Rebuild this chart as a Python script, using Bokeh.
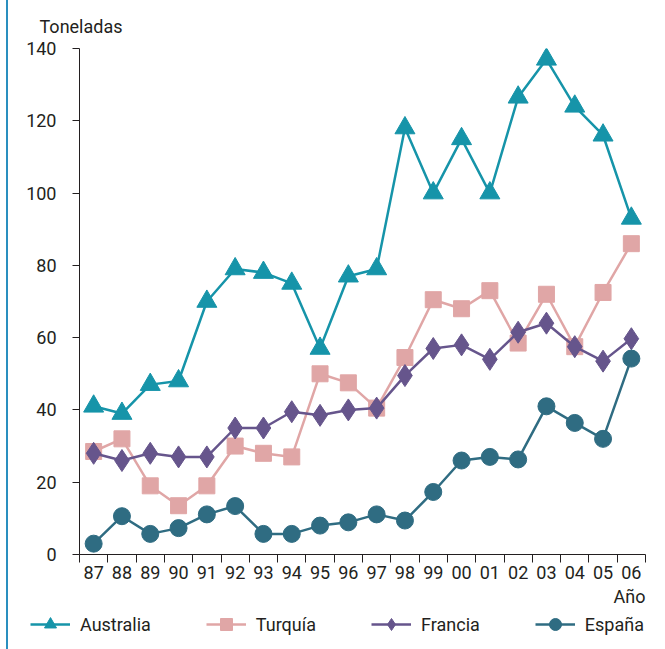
from bokeh.plotting import figure
from bokeh.models import FixedTicker, Legend, LegendItem, ColumnDataSource, Title
from bokeh.layouts import column
from bokeh.embed import file_html
from bokeh.resources import INLINE

years = ["87", "88", "89", "90", "91", "92", "93", "94", "95", "96",
         "97", "98", "99", "00", "01", "02", "03", "04", "05", "06"]
australia = [41, 39, 47, 48, 70, 79, 78, 75, 57, 77,
             79, 118, 100, 115, 100, 126.5, 137, 124, 116, 93]
turquia = [28.5, 32, 19, 13.5, 19, 30, 28, 27, 50, 47.5,
           40.5, 54.5, 70.5, 68, 73, 58.5, 72, 57.5, 72.5, 86]
francia = [28, 26, 28, 27, 27, 35, 35, 39.5, 38.5, 40,
           40.5, 49.5, 57, 58, 54, 61.5, 64, 57.5, 53.5, 59.7]
espana = [3, 10.6, 5.7, 7.3, 11.1, 13.4, 5.7, 5.7, 8, 8.9,
          11.1, 9.4, 17.3, 26, 27, 26.3, 41, 36.4, 32, 54.2]
y_ticks = [0, 20, 40, 60, 80, 100, 120, 140]

FONT = "Roboto"
TXT = "#231f20"
FS = "18px"

idx = list(range(len(years)))

p = figure(frame_width=566, frame_height=506, width=648, height=606,
           x_range=(-0.5, len(years) - 0.5), y_range=(0, 140),
           output_backend="svg", toolbar_location=None,
           min_border_left=71, min_border_right=11, min_border_top=48, min_border_bottom=52)
p.outline_line_color = None
p.grid.visible = False

p.title.text = "Toneladas"
p.title.align = "left"
p.title.offset = -40
p.title.text_font = FONT
p.title.text_font_size = FS
p.title.text_font_style = "normal"
p.title.text_color = TXT
p.title.standoff = 24

# y axis
p.yaxis.ticker = FixedTicker(ticks=y_ticks)
p.yaxis.major_tick_in = 0
p.yaxis.major_tick_out = 7
p.yaxis.minor_tick_line_color = None
p.yaxis.axis_line_color = TXT
p.yaxis.major_tick_line_color = TXT
p.yaxis.major_label_text_font = FONT
p.yaxis.major_label_text_font_size = FS
p.yaxis.major_label_text_color = TXT
p.yaxis.major_label_standoff = 16

# x axis
p.xaxis.ticker = FixedTicker(ticks=idx, minor_ticks=[i - 0.5 for i in range(len(years) + 1)])
p.xaxis.major_label_overrides = {i: y for i, y in enumerate(years)}
p.xaxis.major_tick_in = 0
p.xaxis.major_tick_out = 0
p.xaxis.minor_tick_in = 0
p.xaxis.minor_tick_out = 8
p.xaxis.axis_line_color = TXT
p.xaxis.minor_tick_line_color = TXT
p.xaxis.major_label_text_font = FONT
p.xaxis.major_label_text_font_size = FS
p.xaxis.major_label_text_color = TXT
p.xaxis.major_label_standoff = 3

p.add_layout(Title(text="Año", align="right", text_font=FONT, text_font_size=FS,
                   text_font_style="normal", text_color=TXT, standoff=5), "below")

series = [
    ("Australia", australia, "#1694a9", "triangle", 20),
    ("Turquía", turquia, "#e0a6a6", "square", 16),
    ("Francia", francia, "#66558c", "diamond", 22),
    ("España", espana, "#2f6c82", "circle", 17),
]

# legend figure (below the chart); its ranges keep the data out of view
lf = figure(width=648, height=36, x_range=(1000, 1001), y_range=(1000, 1001),
            x_axis_type=None, y_axis_type=None,
            output_backend="svg", toolbar_location=None,
            min_border_left=0, min_border_right=0, min_border_top=0, min_border_bottom=0)
lf.outline_line_color = None
lf.grid.visible = False
try:
    lf.frame_align = False
except Exception:
    pass

items = []
for name, vals, col, mk, sz in series:
    src = ColumnDataSource(dict(x=idx, y=vals))
    p.line("x", "y", source=src, line_color=col, line_width=2.5)
    p.scatter("x", "y", source=src, marker=mk, size=sz, fill_color=col, line_color=col)
    l = lf.line("x", "y", source=src, line_color=col, line_width=2.5)
    s = lf.scatter("x", "y", source=src, marker=mk, size=sz, fill_color=col, line_color=col)
    items.append(LegendItem(label=name, renderers=[l, s]))

legend = Legend(items=items, orientation="horizontal", location=(22, 6),
                label_text_font=FONT, label_text_font_size=FS, label_text_color=TXT,
                glyph_width=40, glyph_height=30, spacing=55, padding=0, margin=0,
                label_standoff=10, border_line_color=None, background_fill_alpha=0)
lf.add_layout(legend, "center")

layout = column(p, lf, spacing=0)
layout.styles = {"border-left": "2px solid #2a8fbf", "margin-left": "6px", "padding-bottom": "4px"}

open("out.html", "w").write(file_html(layout, INLINE))
